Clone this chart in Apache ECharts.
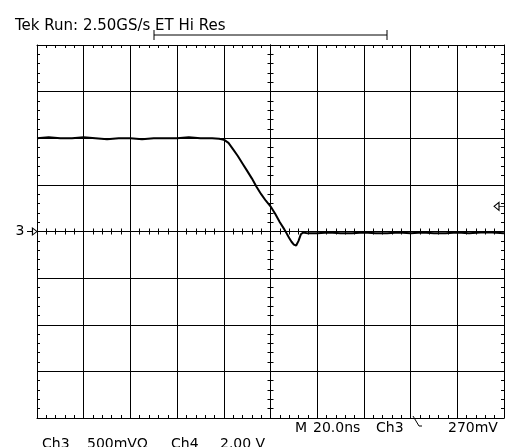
<!DOCTYPE html>
<html>
<head>
<meta charset="utf-8">
<script src="https://cdn.jsdelivr.net/npm/echarts@6/dist/echarts.min.js"></script>
<style>
  html, body { margin: 0; padding: 0; background: #fff; }
  #chart { width: 507px; height: 447px; }
</style>
</head>
<body>
<div id="chart"></div>
<script>
// time in ns (20 ns/div), Ch3 in volts (500 mV/div)
var timeNs = [-100, -95, -90, -85, -80, -75, -70, -65, -60, -55, -50, -45, -40, -35, -30, -25, -22,
  -20, -18, -16, -14, -12, -10, -8, -6, -4, -2, 0, 2, 4, 6, 8, 9, 10, 11, 12, 13, 14, 16,
  20, 25, 30, 35, 40, 45, 50, 55, 60, 65, 70, 75, 80, 85, 90, 95, 100];
var ch3Volts = [1.0, 1.01, 1.0, 1.0, 1.01, 1.0, 0.99, 1.0, 1.0, 0.99, 1.0, 1.0, 1.0, 1.01, 1.0, 1.0, 0.995,
  0.985, 0.95, 0.88, 0.81, 0.73, 0.65, 0.57, 0.48, 0.40, 0.33, 0.27, 0.19, 0.10, 0.02, -0.07, -0.11, -0.14, -0.15, -0.10, -0.03, -0.01, -0.02,
  -0.02, -0.01, -0.02, -0.02, -0.01, -0.02, -0.02, -0.01, -0.02, -0.01, -0.02, -0.02, -0.01, -0.02, -0.01, -0.01, -0.02];
var triggerLevel = 0.27;

var points = [];
for (var i = 0; i < timeNs.length; i++) {
  points.push([timeNs[i], ch3Volts[i]]);
}

var FONT = "DejaVu Sans";
var black = "#000";

function xAxisDef(position, onZero, inside, split) {
  return {
    type: "value", min: -100, max: 100, interval: 20, position: position,
    axisLine: { show: true, onZero: onZero, lineStyle: { color: black, width: 1 } },
    axisTick: { show: true, inside: inside, length: 3, lineStyle: { color: black } },
    minorTick: { show: true, splitNumber: 5, length: 3, lineStyle: { color: black } },
    axisLabel: { show: false },
    splitLine: { show: split, lineStyle: { color: black, width: 1 } }
  };
}
function yAxisDef(position, onZero, inside, split) {
  return {
    type: "value", min: -2, max: 2, interval: 0.5, position: position,
    axisLine: { show: true, onZero: onZero, lineStyle: { color: black, width: 1 } },
    axisTick: { show: true, inside: inside, length: 3, lineStyle: { color: black } },
    minorTick: { show: true, splitNumber: 5, length: 3, lineStyle: { color: black } },
    axisLabel: { show: false },
    splitLine: { show: split, lineStyle: { color: black, width: 1 } }
  };
}

function txt(x, y, s, size) {
  return {
    type: "text", left: x, top: y,
    style: { text: s, font: (size || 14) + "px " + FONT, fill: black, textVerticalAlign: "middle" }
  };
}

var chart = echarts.init(document.getElementById("chart"));
var option = {
  animation: false,
  backgroundColor: "#fff",
  grid: { left: 37, top: 45, width: 467, height: 373, show: false },
  xAxis: [
    xAxisDef("bottom", false, true, true),
    xAxisDef("top", false, true, false),
    xAxisDef("bottom", true, true, false),
    xAxisDef("bottom", true, false, false)
  ],
  yAxis: [
    yAxisDef("left", false, true, true),
    yAxisDef("right", false, true, false),
    yAxisDef("left", true, true, false),
    yAxisDef("left", true, false, false)
  ],
  series: [{
    type: "line",
    xAxisIndex: 0,
    yAxisIndex: 0,
    data: points,
    showSymbol: false,
    lineStyle: { color: black, width: 2 },
    markPoint: {
      silent: true,
      data: [
        {
          coord: [-100, 0],
          symbol: "path://M0,5 L6,5 M6,1 L11,5 L6,9 Z",
          symbolSize: [10, 7],
          symbolOffset: [-5, 0],
          itemStyle: { color: "#fff", borderColor: black, borderWidth: 1 },
          label: { show: true, position: "left", distance: 2, formatter: "3",
            fontFamily: FONT, fontSize: 14, color: black }
        },
        {
          coord: [100, triggerLevel],
          symbol: "path://M0,4 L5,0 L5,8 Z M5,4 L10,4",
          symbolSize: [10, 8],
          symbolOffset: [-5, 0],
          itemStyle: { color: "#fff", borderColor: black, borderWidth: 1 },
          label: { show: false }
        }
      ]
    }
  }],
  graphic: [
    txt(15, 19, "Tek Run: 2.50GS/s ET Hi Res", 15),
    {
      type: "polyline", silent: true,
      shape: { points: [[154, 35], [387, 35]] },
      style: { stroke: black, lineWidth: 1 }
    },
    { type: "line", shape: { x1: 154, y1: 30, x2: 154, y2: 40 }, style: { stroke: black, lineWidth: 1 } },
    { type: "line", shape: { x1: 387, y1: 30, x2: 387, y2: 40 }, style: { stroke: black, lineWidth: 1 } },
    txt(295, 421, "M"),
    txt(313, 421, "20.0ns"),
    txt(376, 421, "Ch3"),
    {
      type: "polyline", silent: true,
      shape: { points: [[413, 416], [419, 426], [422, 426]] },
      style: { stroke: black, lineWidth: 1, fill: null }
    },
    txt(448, 421, "270mV"),
    txt(42, 437, "Ch3"),
    txt(87, 437, "500mVΩ"),
    txt(171, 437, "Ch4"),
    txt(220, 437, "2.00 V")
  ]
};
chart.setOption(option);
</script>
</body>
</html>
